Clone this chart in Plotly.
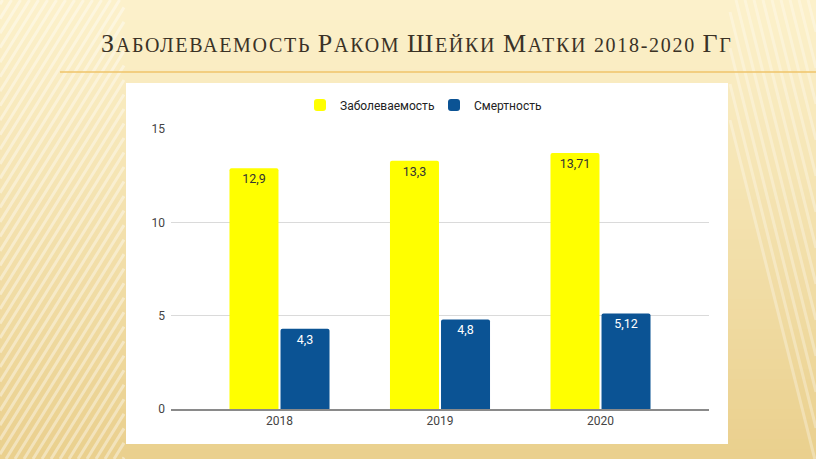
import plotly.graph_objects as go

# ---- data ----
years = ["2018", "2019", "2020"]
incidence = [12.9, 13.3, 13.71]
mortality = [4.3, 4.8, 5.12]
series_names = ["Заболеваемость", "Смертность"]
y_ticks = [0, 5, 10, 15]
title_text = "ЗАБОЛЕВАЕМОСТЬ РАКОМ ШЕЙКИ МАТКИ 2018-2020 ГГ"

W, H = 816, 459
L, R, T, B = 171, 709, 129, 409


def px2x(px):
    return (px - L) / (R - L)


def py2y(py):
    return (B - py) / (B - T)


def fmt(v):
    return str(v).replace(".", ",")


fig = go.Figure()
fig.add_trace(go.Bar(
    x=years, y=incidence, name=series_names[0],
    marker=dict(color="#FFFF00", line=dict(width=0)),
    text=[fmt(v) for v in incidence], textposition="inside",
    insidetextanchor="end", textangle=0,
    insidetextfont=dict(color="#333333", size=12.5, family="Roboto"),
))
fig.add_trace(go.Bar(
    x=years, y=mortality, name=series_names[1],
    marker=dict(color="#0B5394", line=dict(width=0)),
    text=[fmt(v) for v in mortality], textposition="inside",
    insidetextanchor="end", textangle=0,
    insidetextfont=dict(color="#FFFFFF", size=12.5, family="Roboto"),
))

shapes = []
# background gradient (decoration)
top_c = (252, 241, 203)
bot_c = (234, 208, 142)
n = 46
for i in range(n):
    t = i / (n - 1)
    c = tuple(int(round(top_c[k] + (bot_c[k] - top_c[k]) * t)) for k in range(3))
    y0 = H * i / n
    y1 = H * (i + 1) / n + 1
    shapes.append(dict(type="rect", xref="paper", yref="paper", layer="below",
                       x0=px2x(-2), x1=px2x(W + 2), y0=py2y(y1), y1=py2y(y0),
                       fillcolor="rgb(%d,%d,%d)" % c, line=dict(width=0)))


def clip_line(xa, ya, xb, yb, xmin, xmax):
    if xa > xb:
        xa, ya, xb, yb = xb, yb, xa, ya
    if xb < xmin or xa > xmax:
        return None
    def yat(x):
        return ya + (yb - ya) * (x - xa) / (xb - xa)
    x0 = max(xa, xmin)
    x1 = min(xb, xmax)
    return x0, yat(x0), x1, yat(x1)

# left diagonal stripes "/"
k = 0.62
for a in range(-300, 140, 9):
    seg = clip_line(a, H, a + H * k, 0, 0, 124)
    if seg:
        x0, y0, x1, y1 = seg
        shapes.append(dict(type="line", xref="paper", yref="paper", layer="below",
                           x0=px2x(x0), y0=py2y(y0), x1=px2x(x1), y1=py2y(y1),
                           line=dict(color="rgba(255,255,255,0.4)", width=3)))
# right stripes "\"
k2 = 0.25
for a in range(700, 900, 9):
    seg = clip_line(a, 0, a + H * k2, H, 730, W)
    if seg:
        x0, y0, x1, y1 = seg
        shapes.append(dict(type="line", xref="paper", yref="paper", layer="below",
                           x0=px2x(x0), y0=py2y(y0), x1=px2x(x1), y1=py2y(y1),
                           line=dict(color="rgba(255,255,255,0.3)", width=3)))

# title underline
shapes.append(dict(type="line", xref="paper", yref="paper", layer="below",
                   x0=px2x(60), x1=px2x(W), y0=py2y(72), y1=py2y(72),
                   line=dict(color="#EFC46A", width=1.5)))
# white chart panel
shapes.append(dict(type="rect", xref="paper", yref="paper", layer="below",
                   x0=px2x(126), x1=px2x(728), y0=py2y(444), y1=py2y(83),
                   fillcolor="#FFFFFF", line=dict(width=0)))


def title_html(s):
    out = []
    for word in s.split(" "):
        first, rest = word[0], word[1:]
        if first.isalpha():
            out.append('<span style="font-size:26px">%s</span>%s' % (first, rest))
        else:
            out.append(word)
    return '<span style="letter-spacing:1.7px">' + " ".join(out) + "</span>"


fig.add_annotation(
    text=title_html(title_text), xref="paper", yref="paper",
    x=px2x(99), y=py2y(43), xanchor="left", yanchor="middle",
    showarrow=False, font=dict(family="Liberation Serif", size=20, color="#3A3226"),
)

fig.update_layout(
    width=W, height=H,
    margin=dict(l=L, r=W - R, t=T, b=H - B),
    paper_bgcolor="#F6E4AE", plot_bgcolor="rgba(0,0,0,0)",
    barmode="group", bargap=0.364, bargroupgap=0.04, barcornerradius=2,
    font=dict(family="Roboto", size=12, color="#444444"),
    showlegend=True,
    legend=dict(orientation="h", x=px2x(300), y=py2y(105), xanchor="left", yanchor="middle",
                font=dict(size=12, color="#222222"), bgcolor="rgba(0,0,0,0)",
                entrywidth=89, entrywidthmode="pixels"),
    shapes=shapes,
    uniformtext=dict(mode=False),
)
fig.update_xaxes(type="category", range=[-0.676, 2.676], showgrid=False,
                 showline=True, linecolor="#8A8A8A", linewidth=2,
                 tickfont=dict(size=12, color="#444444"), ticks="", fixedrange=True)
fig.update_yaxes(range=[0, 15], tickvals=y_ticks, showgrid=True, gridcolor="#DADADA",
                 gridwidth=1, zeroline=False, showline=False, ticks="",
                 ticklabelstandoff=5,
                 tickfont=dict(size=12, color="#444444"), fixedrange=True)

fig.write_html("out.html")
